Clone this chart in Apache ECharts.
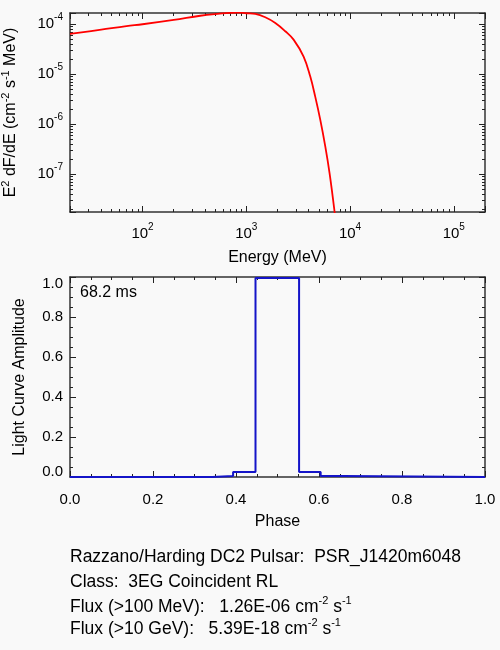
<!DOCTYPE html>
<html>
<head>
<meta charset="utf-8">
<script src="https://cdn.jsdelivr.net/npm/echarts@6/dist/echarts.min.js"></script>
<style>
  html, body { margin: 0; padding: 0; background: #f9f9f9; }
  #chart { width: 500px; height: 650px; }
</style>
</head>
<body>
<div id="chart"></div>
<script>
// spectrum (MeV, cm^-2 s^-1 MeV)
var energyMeV = [20, 40, 70, 100, 200, 360, 500, 700, 850, 1000, 1222, 1524, 1905, 2378, 2858,
                 3570, 4140, 4620, 5170, 5780, 6350, 7060, 7500];
var e2dnde = [6.4e-5, 7.8e-5, 9.2e-5, 1.0e-4, 1.22e-4, 1.48e-4, 1.6e-4, 1.69e-4, 1.72e-4, 1.66e-4, 1.61e-4, 1.38e-4,
              1.06e-4, 7.24e-5, 4.92e-5, 2.25e-5, 8.95e-6, 3.56e-6, 1.22e-6, 3.56e-7, 1.05e-7, 1.93e-8, 6e-9];

// light curve: bin start phase and amplitude
var phaseEdges = [0, 0.343, 0.393, 0.447, 0.552, 0.604, 0.659, 1.0];
var amplitude = [0, 0.005, 0.025, 0.995, 0.025, 0.005, 0, 0];

var periodLabel = '68.2 ms';
var infoTitle = 'Razzano/Harding DC2 Pulsar:  PSR_J1420m6048';
var infoClass = 'Class:  3EG Coincident RL';
var flux100 = '1.26E-06';
var flux10g = '5.39E-18';

// minor tick positions for the log axes (2..9 in each decade)
function logMinors(lo, hi) {
  var out = [];
  for (var p = lo; p <= hi; p++) {
    for (var m = 2; m <= 9; m++) out.push(m * Math.pow(10, p));
  }
  return out;
}
var eMinor = logMinors(1, 5).filter(function (v) { return v > 20 && v < 200000; });
var fMinor = logMinors(-8, -5).filter(function (v) { return v > 1.74e-8 && v < 1.68e-4; });

var font = 'Liberation Sans, Arial, Helvetica, sans-serif';
var lineCol = '#333333';
var tickCol = '#222222';

var powRich = {
  b: { fontSize: 15, fontFamily: font, color: '#000', lineHeight: 24 },
  s: { fontSize: 10, fontFamily: font, color: '#000', lineHeight: 10, verticalAlign: 'top' }
};
function powLabel(v) {
  var p = Math.log10(v);
  if (Math.abs(p - Math.round(p)) > 1e-6) return '';
  return '{b|10}{s|' + Math.round(p) + '}';
}
// end labels of the amplitude axis sit a little inside the box, as in the original
function ampLabel(v) {
  if (v >= 1) return '{t|' + v.toFixed(1) + '}';
  if (v <= 0) return '{z|' + v.toFixed(1) + '}';
  return v.toFixed(1);
}

function line(show, offZero) {
  var l = { show: show, lineStyle: { color: lineCol, width: 1.5 } };
  if (offZero) l.onZero = false;
  return l;
}
function tickOnly(axis, extra) {
  var a = {
    axisLine: line(false),
    axisLabel: { show: false },
    splitLine: { show: false },
    axisTick: { show: true, inside: true, length: 6, lineStyle: { color: tickCol, width: 1 } }
  };
  for (var k in axis) a[k] = axis[k];
  for (var k2 in extra) a[k2] = extra[k2];
  return a;
}
function minorLog(vals) {
  return { show: true, inside: true, length: 3, customValues: vals, lineStyle: { color: tickCol, width: 1 } };
}
function minorLin() {
  return { show: true, splitNumber: 4, length: 3, lineStyle: { color: tickCol, width: 1 } };
}

var chart = echarts.init(document.getElementById('chart'));

var spectrum = energyMeV.map(function (e, i) { return [e, e2dnde[i]]; });
var curve = phaseEdges.map(function (p, i) { return [p, amplitude[i]]; });

var eRange = { type: 'log', gridIndex: 0, min: 20, max: 200000 };
var fRange = { type: 'log', gridIndex: 0, min: 1.74e-8, max: 1.68e-4 };
var pRange = { type: 'value', gridIndex: 1, min: 0, max: 1, interval: 0.2 };

var option = {
  animation: false,
  grid: [
    { left: 70, top: 13, width: 415, height: 199, outerBoundsMode: 'none', containLabel: false },
    { left: 70, top: 277, width: 415, height: 200, outerBoundsMode: 'none', containLabel: false }
  ],
  xAxis: [
    tickOnly(eRange, {
      position: 'bottom', axisLine: line(true),
      axisLabel: { show: true, margin: 10, formatter: powLabel, rich: powRich },
      name: 'Energy (MeV)', nameLocation: 'middle', nameGap: 38,
      nameTextStyle: { fontSize: 16, color: '#000', fontFamily: font }
    }),
    tickOnly(eRange, { position: 'top', axisLine: line(true) }),
    tickOnly(eRange, { position: 'bottom', axisTick: minorLog(eMinor) }),
    tickOnly(eRange, { position: 'top', axisTick: minorLog(eMinor) }),
    tickOnly(pRange, {
      position: 'bottom', axisLine: line(true),
      axisLabel: { show: true, margin: 15, fontSize: 15, color: '#000', fontFamily: font,
        formatter: function (v) { return v.toFixed(1); } },
      minorTick: minorLin(),
      name: 'Phase', nameLocation: 'middle', nameGap: 37,
      nameTextStyle: { fontSize: 16, color: '#000', fontFamily: font }
    }),
    tickOnly(pRange, { position: 'top', axisLine: line(true, true), minorTick: minorLin() })
  ],
  yAxis: [
    tickOnly(fRange, {
      position: 'left', axisLine: line(true),
      axisLabel: { show: true, margin: 7, formatter: powLabel, rich: powRich },
      name: '{n|E}{s|2}{n| dF/dE (cm}{s|-2}{n| s}{s|-1}{n| MeV)}',
      nameLocation: 'middle', nameGap: 48, nameRotate: 90,
      nameTextStyle: {
        rich: {
          n: { fontSize: 16, fontFamily: font, color: '#000', lineHeight: 22 },
          s: { fontSize: 11, fontFamily: font, color: '#000', lineHeight: 11, verticalAlign: 'top' }
        }
      }
    }),
    tickOnly(fRange, { position: 'right', axisLine: line(true) }),
    tickOnly(fRange, { position: 'left', axisTick: minorLog(fMinor) }),
    tickOnly(fRange, { position: 'right', axisTick: minorLog(fMinor) }),
    tickOnly(pRange, {
      position: 'left', axisLine: line(true),
      axisLabel: { show: true, margin: 7, fontSize: 15, color: '#000', fontFamily: font,
        formatter: ampLabel,
        rich: {
          t: { fontSize: 15, color: '#000', fontFamily: font, padding: [14, 0, 0, 0] },
          z: { fontSize: 15, color: '#000', fontFamily: font, padding: [0, 0, 10, 0] }
        } },
      minorTick: minorLin(),
      name: 'Light Curve Amplitude', nameLocation: 'middle', nameGap: 42, nameRotate: 90,
      nameTextStyle: { fontSize: 16, color: '#000', fontFamily: font }
    }),
    tickOnly(pRange, { position: 'right', axisLine: line(true, true), minorTick: minorLin() })
  ],
  series: [
    {
      type: 'line', xAxisIndex: 0, yAxisIndex: 0, data: spectrum,
      showSymbol: false, smooth: 0.4,
      lineStyle: { color: '#ff0000', width: 1.8 }
    },
    {
      type: 'line', xAxisIndex: 4, yAxisIndex: 4, data: curve,
      step: 'end', showSymbol: false, clip: false,
      lineStyle: { color: '#1414c8', width: 2 }
    }
  ],
  graphic: [
    { type: 'text', x: 80, y: 293, style: { text: periodLabel, fontSize: 16, fontFamily: font, fill: '#000', verticalAlign: 'middle' } },
    { type: 'text', x: 70, y: 557, style: { text: infoTitle, fontSize: 17.5, fontFamily: font, fill: '#000', verticalAlign: 'middle' } },
    { type: 'text', x: 70, y: 582, style: { text: infoClass, fontSize: 17.5, fontFamily: font, fill: '#000', verticalAlign: 'middle' } },
    { type: 'text', x: 70, y: 607, style: {
        text: '{n|Flux (>100 MeV):   ' + flux100 + ' cm}{s|-2}{n| s}{s|-1}', verticalAlign: 'middle',
        rich: {
          n: { fontSize: 17.5, fontFamily: font, fill: '#000', lineHeight: 24 },
          s: { fontSize: 11, fontFamily: font, fill: '#000', lineHeight: 11, verticalAlign: 'top' }
        } } },
    { type: 'text', x: 70, y: 629, style: {
        text: '{n|Flux (>10 GeV):   ' + flux10g + ' cm}{s|-2}{n| s}{s|-1}', verticalAlign: 'middle',
        rich: {
          n: { fontSize: 17.5, fontFamily: font, fill: '#000', lineHeight: 24 },
          s: { fontSize: 11, fontFamily: font, fill: '#000', lineHeight: 11, verticalAlign: 'top' }
        } } }
  ]
};

chart.setOption(option);
</script>
</body>
</html>
